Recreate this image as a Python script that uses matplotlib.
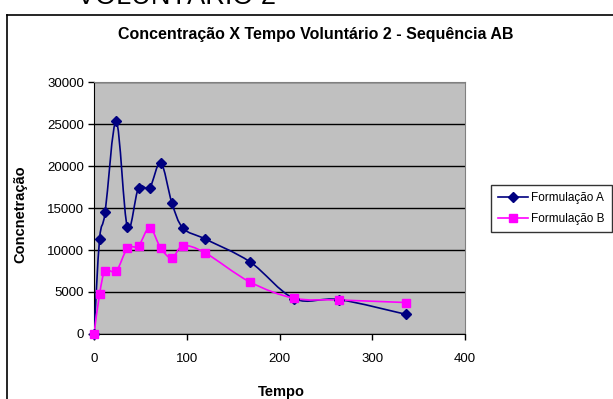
import matplotlib
matplotlib.use("Agg")
import numpy as np
from matplotlib import pyplot as plt
from matplotlib.lines import Line2D
from matplotlib.path import Path
from matplotlib.patches import PathPatch

plt.rcParams["font.family"] = ["Liberation Sans", "DejaVu Sans"]

# data
tempo = [0, 6, 12, 24, 36, 48, 60, 72, 84, 96, 120, 168, 216, 264, 336]
formulacao_a = [0, 11300, 14500, 25300, 12700, 17400, 17400, 20400, 15600,
                12600, 11300, 8600, 4200, 4100, 2350]
formulacao_b = [0, 4750, 7500, 7500, 10200, 10500, 12650, 10200, 9050,
                10500, 9650, 6200, 4250, 4050, 3750]

x_ticks = [0, 100, 200, 300, 400]
y_ticks = [0, 5000, 10000, 15000, 20000, 25000, 30000]

W, H = 613, 399


def smooth_path(xs, ys):
    # Excel-like smoothed line: cubic bezier segments (catmull-rom control points)
    pts = np.column_stack([xs, ys]).astype(float)
    n = len(pts)
    verts = [pts[0]]
    codes = [Path.MOVETO]
    for i in range(n - 1):
        p0 = pts[max(i - 1, 0)]
        p1 = pts[i]
        p2 = pts[i + 1]
        p3 = pts[min(i + 2, n - 1)]
        c1 = p1 + (p2 - p0) / 6.0
        c2 = p2 - (p3 - p1) / 6.0
        verts += [c1, c2, p2]
        codes += [Path.CURVE4] * 3
    return Path(verts, codes)


fig = plt.figure(figsize=(W / 100, H / 100), dpi=100)
ax = fig.add_axes([94 / W, (H - 334) / H, 371 / W, 252 / H])
ax.set_facecolor("#C0C0C0")

series = [
    (formulacao_a, "#000080", "D", 5.0, "Formulação A"),
    (formulacao_b, "#FF00FF", "s", 5.5, "Formulação B"),
]
handles = []
for values, color, marker, msize, label in series:
    patch = PathPatch(smooth_path(tempo, values), facecolor="none",
                      edgecolor=color, lw=1.2, transform=ax.transData, zorder=3)
    ax.add_patch(patch)
    ax.plot(tempo, values, ls="none", marker=marker, ms=msize, color=color,
            zorder=4, clip_on=False)
    handles.append(Line2D([], [], color=color, lw=1.2, marker=marker,
                          ms=msize, label=label))

ax.set_xlim(0, 400)
ax.set_ylim(0, 30000)
ax.set_xticks(x_ticks)
ax.set_yticks(y_ticks)
ax.yaxis.grid(True, color="black", lw=1)
ax.set_axisbelow(True)
for side in ["top", "right"]:
    ax.spines[side].set_color("#808080")
for side in ["left", "bottom"]:
    ax.spines[side].set_color("black")
ax.tick_params(axis="both", direction="out", length=4, width=1,
               labelsize=9.5, colors="black")
ax.tick_params(axis="x", pad=10)
ax.tick_params(axis="y", pad=3)

fig.text(316 / W, 1 - 35 / H, "Concentração X Tempo Voluntário 2 - Sequência AB",
         ha="center", va="center", fontsize=11.5, fontweight="bold")
fig.text(20 / W, 1 - 214 / H, "Concnetração", rotation=90, ha="center",
         va="center", fontsize=10.5, fontweight="bold")
fig.text(281 / W, 1 - 392 / H, "Tempo", ha="center", va="center",
         fontsize=10.5, fontweight="bold")
fig.text(77 / W, 1 - 4.5 / H, "VOLUNTÁRIO 2", ha="left", va="baseline",
         fontsize=19.5)

# outer chart border (top and left visible)
fig.add_artist(Line2D([7 / W, 1.0], [1 - 15 / H, 1 - 15 / H], color="black", lw=1.2))
fig.add_artist(Line2D([7 / W, 7 / W], [0.0, 1 - 15 / H], color="black", lw=1.2))

leg = fig.legend(handles=handles, loc="upper left",
                 bbox_to_anchor=(491 / W, 1 - 185 / H), fontsize=8.5,
                 frameon=True, fancybox=False, borderpad=0.6,
                 handlelength=2.5, handletextpad=0.3, labelspacing=0.75,
                 borderaxespad=0)
leg.get_frame().set_edgecolor("black")
leg.get_frame().set_linewidth(1)

fig.savefig("out.png", dpi=100)
